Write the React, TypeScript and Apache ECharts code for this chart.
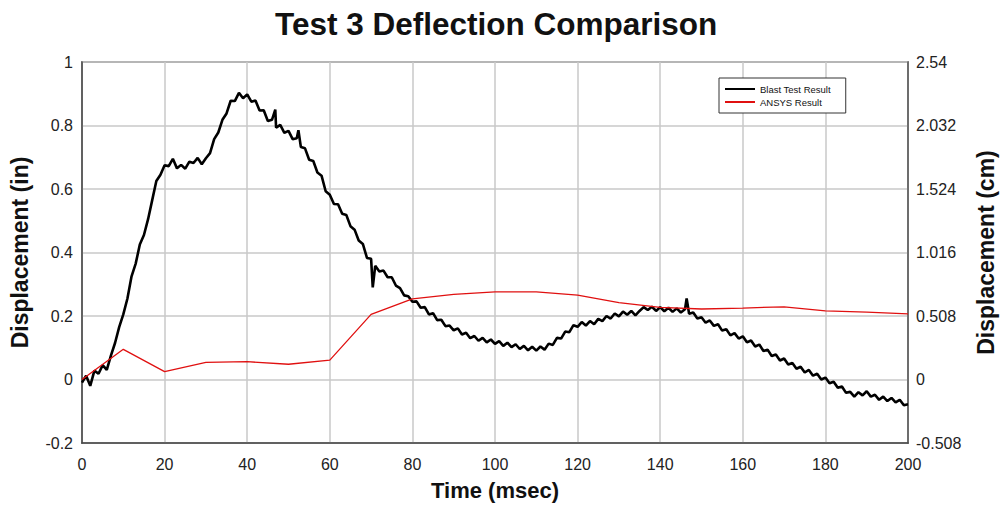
import React, { useEffect, useRef } from "react";
import * as echarts from "echarts";

const chartTitle = "Test 3 Deflection Comparison";
const seriesNames = ["Blast Test Result", "ANSYS Result"];

// ANSYS result, sampled every 10 msec
const ansysTime = [0, 10, 20, 30, 40, 50, 60, 70, 80, 90, 100, 110, 120, 130, 140, 150, 160, 170, 180, 190, 200];
const ansysValues = [0, 0.095, 0.025, 0.054, 0.056, 0.048, 0.061, 0.205, 0.254, 0.268, 0.276, 0.276, 0.266, 0.242, 0.227, 0.222, 0.225, 0.229, 0.216, 0.212, 0.207];

// Blast test result, one reading per msec (0..200)
const blastValues = [
  -0.01, 0.012, -0.02, 0.028, 0.018, 0.045, 0.03, 0.075, 0.115, 0.165,
  0.205, 0.255, 0.325, 0.365, 0.425, 0.455, 0.505, 0.565, 0.625, 0.645,
  0.675, 0.672, 0.695, 0.665, 0.676, 0.664, 0.686, 0.682, 0.698, 0.678,
  0.697, 0.713, 0.757, 0.778, 0.818, 0.838, 0.878, 0.877, 0.903, 0.886,
  0.898, 0.875, 0.879, 0.847, 0.848, 0.814, 0.818, 0.793, 0.802, 0.777,
  0.783, 0.757, 0.76, 0.732, 0.728, 0.692, 0.688, 0.652, 0.642, 0.593,
  0.582, 0.553, 0.552, 0.522, 0.518, 0.483, 0.472, 0.438, 0.427, 0.383,
  0.38, 0.358, 0.34, 0.343, 0.322, 0.322, 0.296, 0.288, 0.265, 0.262,
  0.245, 0.246, 0.226, 0.228, 0.205, 0.209, 0.187, 0.188, 0.168, 0.17,
  0.155, 0.161, 0.142, 0.147, 0.13, 0.137, 0.122, 0.131, 0.117, 0.126,
  0.112, 0.121, 0.106, 0.116, 0.102, 0.111, 0.096, 0.106, 0.092, 0.103,
  0.091, 0.104, 0.094, 0.113, 0.109, 0.131, 0.129, 0.151, 0.149, 0.171,
  0.166, 0.181, 0.17, 0.184, 0.174, 0.191, 0.184, 0.2, 0.192, 0.208,
  0.199, 0.214, 0.204, 0.216, 0.202, 0.216, 0.228, 0.219, 0.229, 0.216,
  0.228, 0.215, 0.226, 0.213, 0.224, 0.211, 0.221, 0.207, 0.211, 0.192,
  0.196, 0.179, 0.186, 0.169, 0.174, 0.154, 0.158, 0.139, 0.146, 0.129,
  0.136, 0.117, 0.123, 0.104, 0.11, 0.09, 0.094, 0.074, 0.079, 0.06,
  0.066, 0.047, 0.052, 0.034, 0.04, 0.022, 0.03, 0.012, 0.018, 0.0,
  0.006, -0.012, -0.007, -0.026, -0.022, -0.042, -0.039, -0.054, -0.04, -0.05,
  -0.037, -0.054, -0.048, -0.064, -0.054, -0.068, -0.058, -0.072, -0.064, -0.081,
  -0.078,
];
// isolated spikes in the trace: [msec, value]
const blastSpikes = [
  [46.8, 0.85],
  [52.4, 0.785],
  [70.4, 0.29],
  [146.4, 0.255],
];

const leftTicks = { min: -0.2, max: 1, interval: 0.2 };
const rightTicks = { min: -0.508, max: 2.54, interval: 0.508 };
const xTicks = { min: 0, max: 200, interval: 20 };

const FONT = "'Liberation Sans', Arial, sans-serif";

export default function App() {
  const ref = useRef<HTMLDivElement>(null);

  useEffect(() => {
    if (!ref.current) return;
    const chart = echarts.init(ref.current, null, { renderer: "svg" });

    const blastData: number[][] = blastValues.map((v, i) => [i, v]);
    blastSpikes.forEach((s) => blastData.push(s));
    blastData.sort((a, b) => a[0] - b[0]);
    const ansysData = ansysTime.map((t, i) => [t, ansysValues[i]]);

    const fmt = (v: number) => String(parseFloat(v.toFixed(3)));

    chart.setOption({
      animation: false,
      backgroundColor: "#ffffff",
      textStyle: { fontFamily: FONT },
      title: {
        text: chartTitle,
        left: 270,
        top: 3,
        textStyle: { fontFamily: FONT, fontSize: 31.5, fontWeight: "bold", color: "#111" },
      },
      legend: {
        data: seriesNames,
        orient: "vertical",
        left: 719,
        top: 78,
        padding: [6, 15, 6, 6],
        itemGap: 3,
        itemWidth: 30,
        itemHeight: 2,
        icon: "rect",
        borderColor: "#333",
        borderWidth: 1,
        backgroundColor: "#fff",
        textStyle: { fontFamily: FONT, fontSize: 9.5, color: "#111", padding: [0, 0, 0, 0] },
      },
      grid: {
        left: 82,
        right: 95,
        top: 62,
        bottom: 63,
        outerBoundsMode: "none",
        containLabel: false,
        show: true,
        borderColor: "#555",
        borderWidth: 1.5,
        backgroundColor: "#fff",
      },
      xAxis: {
        type: "value",
        ...xTicks,
        name: "Time (msec)",
        nameLocation: "middle",
        nameGap: 36,
        nameTextStyle: { fontFamily: FONT, fontSize: 22, fontWeight: "bold", color: "#111" },
        axisLine: { show: true, onZero: false, lineStyle: { color: "#444", width: 1.5 } },
        axisTick: { show: false },
        axisLabel: { fontFamily: FONT, fontSize: 16, color: "#222", margin: 13 },
        splitLine: { show: true, lineStyle: { color: "#c8c8c8", width: 1.5 } },
      },
      yAxis: [
        {
          type: "value",
          ...leftTicks,
          position: "left",
          name: "Displacement (in)",
          nameLocation: "middle",
          nameGap: 51,
          nameTextStyle: { fontFamily: FONT, fontSize: 23, fontWeight: "bold", color: "#111" },
          axisLine: { show: true, onZero: false, lineStyle: { color: "#444", width: 1.5 } },
          axisTick: { show: false },
          axisLabel: { fontFamily: FONT, fontSize: 16, color: "#222", margin: 9, formatter: fmt },
          splitLine: { show: true, lineStyle: { color: "#c8c8c8", width: 1.5 } },
        },
        {
          type: "value",
          ...rightTicks,
          position: "right",
          name: "Displacement (cm)",
          nameLocation: "middle",
          nameGap: 66,
          nameRotate: 90,
          nameTextStyle: { fontFamily: FONT, fontSize: 23, fontWeight: "bold", color: "#111" },
          axisLine: { show: true, onZero: false, lineStyle: { color: "#555", width: 1.5 } },
          axisTick: { show: false },
          axisLabel: { fontFamily: FONT, fontSize: 16, color: "#222", margin: 8, formatter: fmt },
          splitLine: { show: false },
        },
      ],
      series: [
        {
          name: seriesNames[0],
          type: "line",
          yAxisIndex: 0,
          data: blastData,
          symbol: "none",
          lineStyle: { color: "#000", width: 2.6 },
          itemStyle: { color: "#000" },
          z: 3,
        },
        {
          name: seriesNames[1],
          type: "line",
          yAxisIndex: 0,
          data: ansysData,
          symbol: "none",
          lineStyle: { color: "#e01010", width: 1.3 },
          itemStyle: { color: "#e01010" },
          z: 4,
        },
      ],
    });

    return () => chart.dispose();
  }, []);

  return (
    <div
      ref={ref}
      style={{ position: "absolute", left: 0, top: 0, width: 1003, height: 506, background: "#fff" }}
    />
  );
}
